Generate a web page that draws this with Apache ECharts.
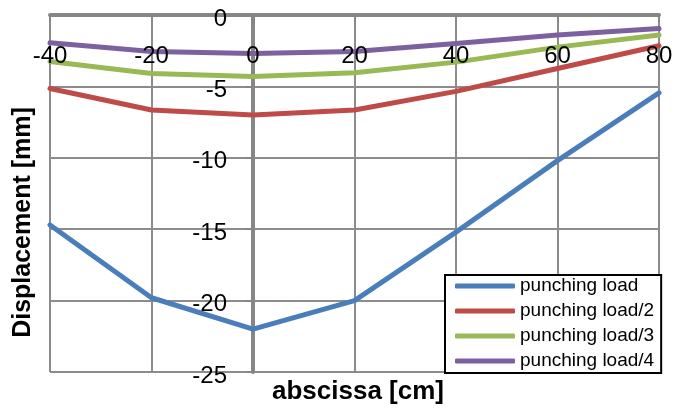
<!DOCTYPE html>
<html>
<head>
<meta charset="utf-8">
<script src="https://cdn.jsdelivr.net/npm/echarts@6/dist/echarts.min.js"></script>
<style>
html,body{margin:0;padding:0;background:#fff;}
#chart{width:679px;height:411px;}
</style>
</head>
<body>
<div id="chart"></div>
<script>
const xValues = [-40, -20, 0, 20, 40, 60, 80];
const punchingLoad = [-14.7, -19.8, -22.0, -20.0, -15.2, -10.2, -5.45];
const punchingLoad2 = [-5.15, -6.65, -7.0, -6.65, -5.35, -3.75, -2.15];
const punchingLoad3 = [-3.25, -4.1, -4.3, -4.05, -3.3, -2.25, -1.4];
const punchingLoad4 = [-1.95, -2.55, -2.7, -2.55, -2.0, -1.4, -0.95];
const seriesNames = ['punching load', 'punching load/2', 'punching load/3', 'punching load/4'];
const seriesColors = ['#4A7EBB', '#BE4B48', '#98B954', '#7D60A0'];
const seriesValues = [punchingLoad, punchingLoad2, punchingLoad3, punchingLoad4];
const xMin = -40, xMax = 80, xStep = 20;
const yMin = -25, yMax = 0, yStep = 5;

const font = 'Liberation Sans, Arial, sans-serif';
const chart = echarts.init(document.getElementById('chart'), null, {renderer: 'canvas'});

const gridLeft = 50, gridRight = 20, plotWidth = 679 - gridLeft - gridRight;
const zeroOffset = plotWidth * (0 - xMin) / (xMax - xMin);

const series = seriesNames.map((name, i) => ({
  name: name,
  type: 'line',
  symbol: 'none',
  xAxisIndex: 0,
  color: seriesColors[i],
  lineStyle: {width: 5, color: seriesColors[i], cap: 'round', join: 'round'},
  data: xValues.map((x, j) => [x, seriesValues[i][j]])
}));

chart.setOption({
  animation: false,
  backgroundColor: '#fff',
  title: {
    text: 'abscissa [cm]',
    left: 272,
    top: 379,
    padding: 0,
    textStyle: {fontFamily: font, fontSize: 26, fontWeight: 'bold', color: '#000'}
  },
  grid: {left: gridLeft, right: gridRight, top: 15, bottom: 39, containLabel: false, outerBoundsMode: 'none'},
  legend: {
    orient: 'vertical',
    left: 445,
    top: 275,
    width: 216,
    backgroundColor: '#fff',
    borderColor: '#000',
    borderWidth: 2,
    padding: [0, 7, 1, 10],
    itemGap: 3,
    itemWidth: 60,
    itemHeight: 5,
    icon: 'roundRect',
    data: seriesNames,
    textStyle: {fontFamily: font, fontSize: 19, color: '#000', lineHeight: 14, padding: [8, 0, 0, 0]}
  },
  xAxis: [{
    type: 'value',
    position: 'top',
    min: xMin,
    max: xMax,
    interval: xStep,
    axisLine: {show: true, onZero: false, lineStyle: {color: '#868686', width: 4}},
    axisTick: {show: true, inside: true, length: 7, lineStyle: {color: '#868686', width: 2}},
    axisLabel: {show: false},
    splitLine: {show: true, lineStyle: {color: '#8C8C8C', width: 2}}
  }, {
    type: 'value',
    position: 'bottom',
    min: xMin,
    max: xMax,
    interval: xStep,
    z: 10,
    axisLine: {show: false, onZero: false},
    axisTick: {show: false},
    splitLine: {show: false},
    axisLabel: {inside: true, margin: 304, fontFamily: font, fontSize: 24, color: '#000'}
  }],
  yAxis: {
    type: 'value',
    min: yMin,
    max: yMax,
    interval: yStep,
    offset: -zeroOffset,
    name: 'Displacement [mm]',
    nameLocation: 'middle',
    nameRotate: 90,
    nameGap: 217,
    nameTextStyle: {fontFamily: font, fontSize: 25, fontWeight: 'bold', color: '#000', padding: [0, 58, 0, 0]},
    axisLine: {show: true, onZero: false, lineStyle: {color: '#868686', width: 4}},
    axisTick: {show: true, inside: false, length: 7, lineStyle: {color: '#868686', width: 2}},
    axisLabel: {
      margin: 26, fontFamily: font, fontSize: 24, color: '#000',
      formatter: v => '{v|' + v + '}',
      rich: {v: {fontFamily: font, fontSize: 24, color: '#000', padding: [8, 0, 0, 0]}}
    },
    splitLine: {show: true, lineStyle: {color: '#8C8C8C', width: 2}}
  },
  series: series
});
</script>
</body>
</html>
